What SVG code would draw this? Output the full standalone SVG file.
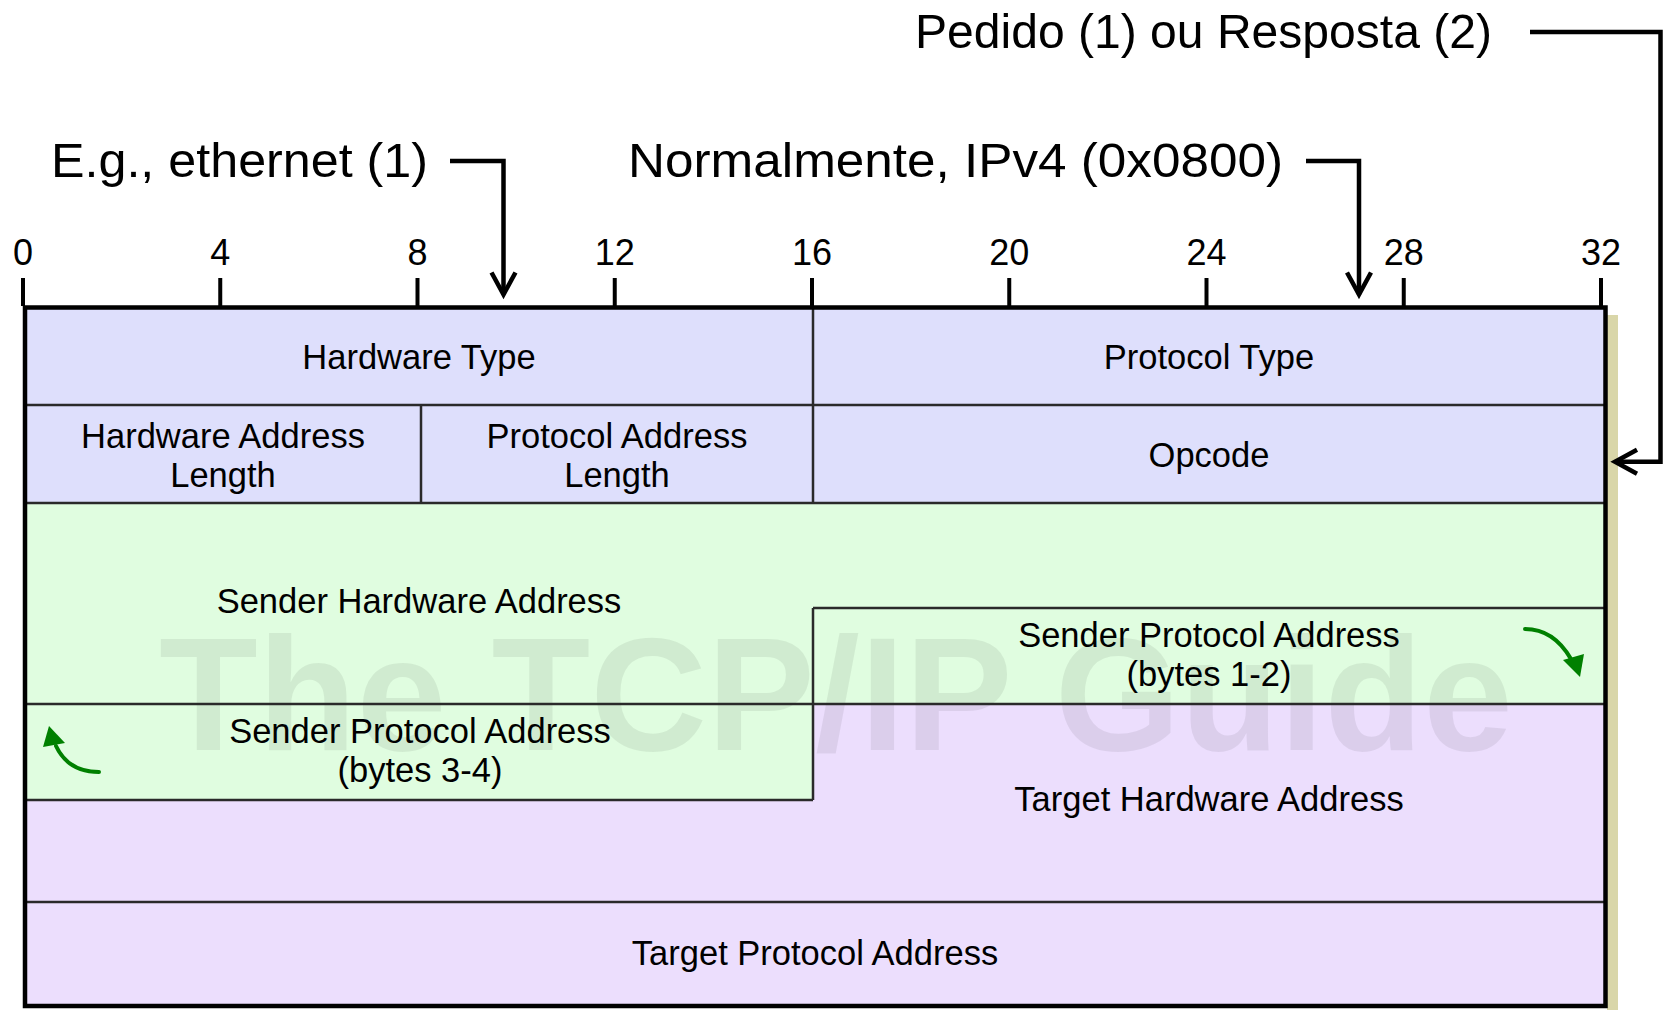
<svg xmlns="http://www.w3.org/2000/svg" width="1665" height="1010" viewBox="0 0 1665 1010">
<style>
.lbl{font-family:"Liberation Sans",Arial,sans-serif;font-size:34.5px;fill:#000;text-anchor:middle}
.ann{font-family:"Liberation Sans",Arial,sans-serif;font-size:48px;fill:#000}
.tick{font-family:"Liberation Sans",Arial,sans-serif;font-size:36px;fill:#000;text-anchor:middle}
.grid{stroke:#2a2a2a;stroke-width:2.5;fill:none}
.conn{stroke:#000;stroke-width:4.5;fill:none;stroke-linejoin:miter}
.garr{stroke:#008000;stroke-width:4;fill:none;stroke-linecap:round}
</style>
<defs>
<marker id="vhead" markerUnits="userSpaceOnUse" orient="auto" refX="0" refY="0" markerWidth="40" markerHeight="40" viewBox="-30 -20 40 40" overflow="visible">
<path d="M-22,-12 L0,0 L-22,12" fill="none" stroke="#000" stroke-width="4.5" stroke-linejoin="miter"/>
</marker>
</defs>
<rect width="1665" height="1010" fill="#fff"/>

<g id="ruler">
<g stroke="#000" stroke-width="4">
<line x1="23" y1="278" x2="23" y2="306"/>
<line x1="220.25" y1="278" x2="220.25" y2="306"/>
<line x1="417.5" y1="278" x2="417.5" y2="306"/>
<line x1="614.75" y1="278" x2="614.75" y2="306"/>
<line x1="812" y1="278" x2="812" y2="306"/>
<line x1="1009.25" y1="278" x2="1009.25" y2="306"/>
<line x1="1206.5" y1="278" x2="1206.5" y2="306"/>
<line x1="1403.75" y1="278" x2="1403.75" y2="306"/>
<line x1="1601" y1="278" x2="1601" y2="306"/>
</g>
<text class="tick" x="23" y="265">0</text>
<text class="tick" x="220.25" y="265">4</text>
<text class="tick" x="417.5" y="265">8</text>
<text class="tick" x="614.75" y="265">12</text>
<text class="tick" x="812" y="265">16</text>
<text class="tick" x="1009.25" y="265">20</text>
<text class="tick" x="1206.5" y="265">24</text>
<text class="tick" x="1403.75" y="265">28</text>
<text class="tick" x="1601" y="265">32</text>
</g>

<g id="table-bg">
<rect x="1607" y="315" width="11" height="695" fill="#d9d6a9"/>
<rect x="25" y="307" width="1580" height="196" fill="#dedffc"/>
<path d="M25,503 H1605 V704 H813 V800 H25 Z" fill="#e0fde0"/>
<path d="M813,704 H1605 V1006 H25 V800 H813 Z" fill="#ecdefd"/>
<text x="159" y="750" font-family="'Liberation Sans',Arial,sans-serif" font-weight="bold" font-size="162" fill="#000" fill-opacity="0.07" textLength="1354" lengthAdjust="spacingAndGlyphs">The TCP/IP Guide</text>
</g>

<g id="grid">
<path class="grid" d="M25,405 H1605 M25,503 H1605 M813,608 H1605 M25,704 H1605 M25,800 H813 M25,902 H1605 M813,307 V503 M813,608 V800 M421,405 V503"/>
<rect x="25" y="307.5" width="1580.5" height="698.5" fill="none" stroke="#000" stroke-width="4.5"/>
</g>

<g id="hardware-type"><text class="lbl" x="419" y="369">Hardware Type</text></g>
<g id="protocol-type"><text class="lbl" x="1209" y="369">Protocol Type</text></g>
<g id="hw-addr-len"><text class="lbl" x="223" y="448">Hardware Address</text><text class="lbl" x="223" y="487">Length</text></g>
<g id="proto-addr-len"><text class="lbl" x="617" y="448">Protocol Address</text><text class="lbl" x="617" y="487">Length</text></g>
<g id="opcode"><text class="lbl" x="1209" y="467">Opcode</text></g>
<g id="sender-hw"><text class="lbl" x="419" y="613">Sender Hardware Address</text></g>
<g id="sender-proto-12"><text class="lbl" x="1209" y="647">Sender Protocol Address</text><text class="lbl" x="1209" y="686">(bytes 1-2)</text>
<path class="garr" d="M1525,629 C1545,629 1560,640 1571,659"/>
<polygon points="1580,677 1563,660 1584,654" fill="#008000"/>
</g>
<g id="sender-proto-34"><text class="lbl" x="420" y="743">Sender Protocol Address</text><text class="lbl" x="420" y="782">(bytes 3-4)</text>
<path class="garr" d="M99,772 C80,772 65,765 56,746"/>
<polygon points="49,726 43,747 65,743" fill="#008000"/>
</g>
<g id="target-hw"><text class="lbl" x="1209" y="811">Target Hardware Address</text></g>
<g id="target-proto"><text class="lbl" x="815" y="965">Target Protocol Address</text></g>

<g id="annotations">
<text class="ann" x="51" y="177" textLength="377" lengthAdjust="spacingAndGlyphs">E.g., ethernet (1)</text>
<text class="ann" x="628" y="177" textLength="655" lengthAdjust="spacingAndGlyphs">Normalmente, IPv4 (0x0800)</text>
<text class="ann" x="915" y="48" textLength="577" lengthAdjust="spacingAndGlyphs">Pedido (1) ou Resposta (2)</text>
</g>

<g id="connectors">
<path class="conn" d="M450,161 H503.5 V294.5" marker-end="url(#vhead)"/>
<path class="conn" d="M1306,161 H1359 V294.5" marker-end="url(#vhead)"/>
<path class="conn" d="M1530,32 H1660.5 V461.8 H1615" marker-end="url(#vhead)"/>
</g>
</svg>
